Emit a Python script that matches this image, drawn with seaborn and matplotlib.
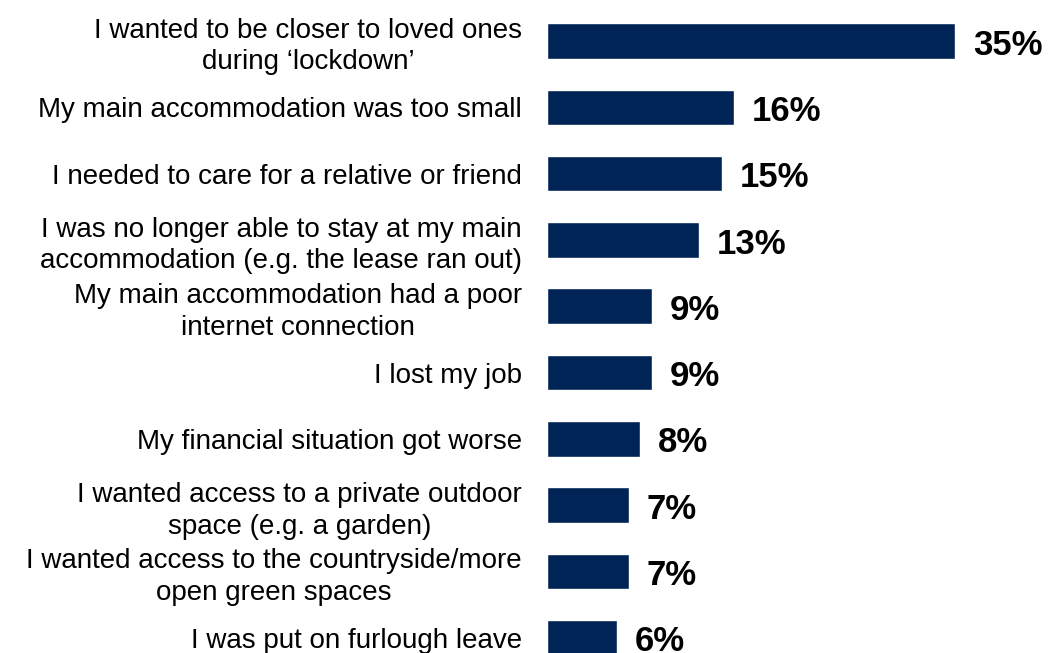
import matplotlib
matplotlib.use("Agg")
import matplotlib.pyplot as plt
import seaborn as sns
import pandas as pd

reasons = [
    "I wanted to be closer to loved ones\nduring \u2018lockdown\u2019",
    "My main accommodation was too small",
    "I needed to care for a relative or friend",
    "I was no longer able to stay at my main\naccommodation (e.g. the lease ran out)",
    "My main accommodation had a poor\ninternet connection",
    "I lost my job",
    "My financial situation got worse",
    "I wanted access to a private outdoor\nspace (e.g. a garden)",
    "I wanted access to the countryside/more\nopen green spaces",
    "I was put on furlough leave",
]
shares = [35, 16, 15, 13, 9, 9, 8, 7, 7, 6]

df = pd.DataFrame({"reason": reasons, "share": shares})

sns.set_theme(style="white")
plt.rcParams["font.family"] = ["Liberation Sans", "DejaVu Sans"]

W, H = 1048, 653
fig = plt.figure(figsize=(W / 100, H / 100), dpi=100)
ax = fig.add_axes([547 / W, 0, 1 - 547 / W, 1])

sns.barplot(data=df, x="share", y="reason", color="#002455",
            saturation=1, width=0.535, ax=ax, orient="h")

ax.set_xlim(0, 42.97)
ax.set_ylim(9.23, -0.618)

for c in ax.containers:
    texts = ax.bar_label(c, labels=[f"{v}%" for v in shares], padding=13,
                         fontsize=25, fontweight="bold", color="black")
    for t in texts:
        dx, dy = t.xyann
        t.xyann = (dx, dy - 3)

ax.set_xlabel("")
ax.set_ylabel("")
ax.set_xticks([])
ax.tick_params(axis="y", length=0, pad=18)
for lab in ax.get_yticklabels():
    lab.set_fontsize(20)
    lab.set_color("black")
    lab.set_multialignment("center")
    lab.set_linespacing(1.27)
sns.despine(ax=ax, left=True, bottom=True)

fig.savefig("out.png", dpi=100)
